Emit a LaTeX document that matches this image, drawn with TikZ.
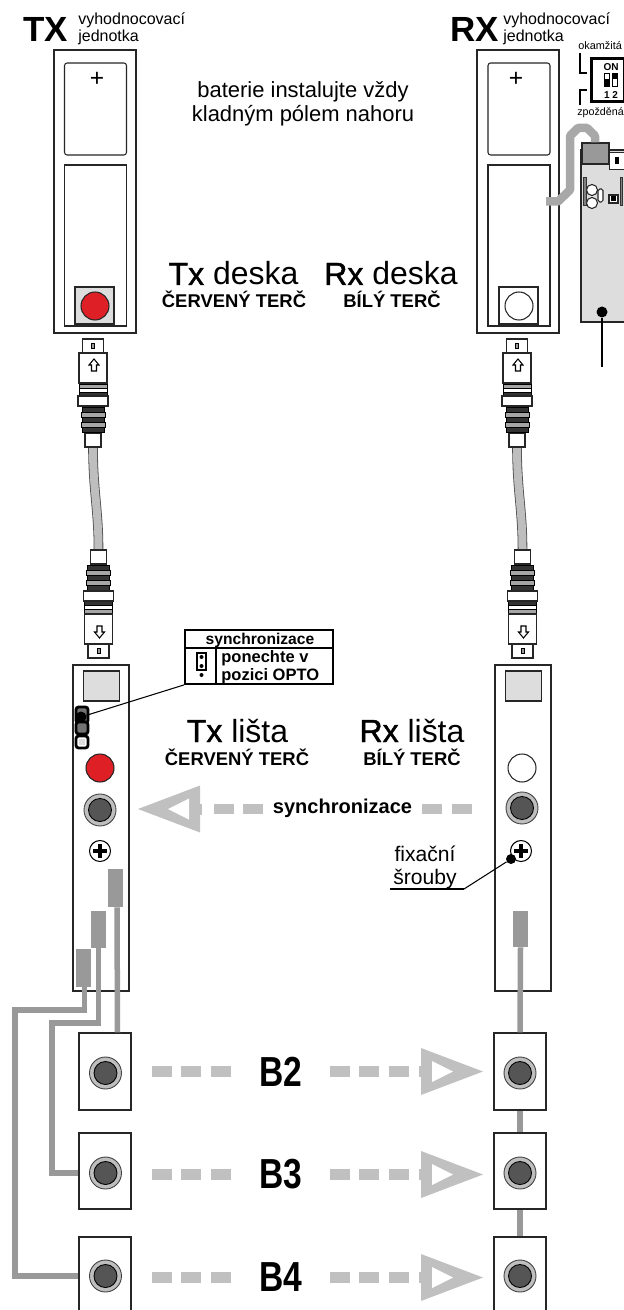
\documentclass[tikz,border=0pt]{standalone}
\usepackage{fontspec}
\setmainfont{Liberation Sans}
\newfontfamily\strokefont[FakeBold=1.5]{Liberation Sans}
\newfontfamily\narrowfont[FakeStretch=0.8]{Liberation Sans}
\usepackage{tikz}
\usetikzlibrary{positioning, shapes.geometric, calc}
\def\px{0.02cm}
\definecolor{panelgray}{HTML}{DDDDDD}
\definecolor{targetred}{HTML}{DE1F26}
\definecolor{ringgray}{HTML}{BEBEBE}
\definecolor{coregray}{HTML}{555555}
\definecolor{wiregray}{HTML}{999999}
\definecolor{beamgray}{HTML}{C0C0C0}
\definecolor{tubegray}{HTML}{A8A8A8}
\tikzstyle{outline} = [rectangle, draw=black!85, fill=white, inner sep=0pt, line width=0.6pt]
\tikzstyle{unitbox} = [outline, minimum width=82*\px, minimum height=283*\px]
\tikzstyle{cellup} = [outline, rounded corners=1.5pt, minimum width=62*\px, minimum height=92*\px]
\tikzstyle{celldown} = [outline, minimum width=62*\px, minimum height=161*\px]
\tikzstyle{targetbox} = [outline, minimum width=39*\px, minimum height=37*\px]
\tikzstyle{target} = [circle, draw=black!85, inner sep=0pt, minimum size=28*\px, line width=0.6pt]
\tikzstyle{stripbox} = [outline, minimum width=56*\px, minimum height=326*\px]
\tikzstyle{stripsquare} = [outline, fill=panelgray, minimum width=36*\px, minimum height=30*\px]
\tikzstyle{jackbox} = [outline, minimum width=52*\px]
\tikzstyle{plugblock} = [rectangle, fill=wiregray, inner sep=0pt, minimum width=15*\px, minimum height=38*\px]
\tikzstyle{wire} = [wiregray, line width=5.5*\px]
\tikzstyle{beambar} = [fill=beamgray]
\tikzstyle{leader} = [black, line width=0.6pt]
\tikzstyle{dotmark} = [circle, fill=black, inner sep=0pt, minimum size=10*\px]
\tikzset{
  jack/.pic={
    \coordinate (-c) at (0,0);
    \draw [fill=ringgray, draw=black!75, line width=0.5pt] (0,0) circle (16);
    \draw [fill=coregray, draw=black, line width=0.5pt] (0,0) circle (11.5);
  },
  screw/.pic={
    \coordinate (-c) at (0,0);
    \draw [fill=white, draw=black, line width=0.6pt] (0,0) circle (10.5);
    \draw [black, line width=3.2*\px] (-7,0) -- (7,0) (0,-7) -- (0,7);
  },
  beamhead/.pic={
    \fill [beamgray] (-64,-5.5) rectangle (-60,5.5);
    \fill [beamgray] (0,0) -- (-62,-23.5) -- (-62,23.5) -- cycle;
    \fill [white] (-30,0) -- (-51,-10.5) -- (-51,10.5) -- cycle;
  },
  plug/.pic={
    \coordinate (-neck) at (0,108);
    \draw [outline] (-8,94) rectangle (8,108);
    % fins next to the cable
    \foreach \fy/\fw/\fc in {68/11/black!80, 73/12/black!35, 78/11/black!80, 83/12/black!35, 88/11/black!80}
      \draw [fill=\fc, draw=black, line width=0.4pt] (-\fw,\fy) rectangle (\fw,\fy+5);
    % fins next to the body
    \foreach \fy/\fc in {45/black!35, 49/white, 53/black!80}
      \draw [fill=\fc, draw=black, line width=0.4pt] (-14,\fy) rectangle (14,\fy+4.5);
    \draw [outline] (-15,57) rectangle (15,67);
    \draw [outline] (-14,14) rectangle (14,44);
    \draw [outline] (-10.5,0) rectangle (10.5,14);
    \draw [fill=black!40, draw=black, line width=0.5pt] (-1.5,4.5) rectangle (1.5,9.5);
    \draw [fill=white, draw=black, line width=0.6pt] (1,20) -- (6,26) -- (3.5,26) -- (3.5,32) -- (-1.5,32) -- (-1.5,26) -- (-4,26) -- cycle;
  }
}
\begin{document}
\begin{tikzpicture}[x=\px, y=-\px]
    \path [use as bounding box, clip] (0,0) rectangle (624,1310);

    % titles
    \node (TxTitle) [anchor=base west, inner sep=0pt, font=\fontsize{19.9}{20}\selectfont\bfseries] at (23,42) {TX};
    \node (TxName) [anchor=north west, align=left, inner sep=0pt, font=\fontsize{9.1}{9.7}\selectfont] at (78,12) {vyhodnocovací\\jednotka};
    \node (RxTitle) [anchor=base west, inner sep=0pt, font=\fontsize{19.9}{20}\selectfont\bfseries] at (450,42) {RX};
    \node (RxName) [anchor=north west, align=left, inner sep=0pt, font=\fontsize{9.1}{9.7}\selectfont] at (503,12) {vyhodnocovací\\jednotka};
    \node (Battery) [align=center, inner sep=0pt, font=\fontsize{12.5}{13.7}\selectfont] at (303,104) {baterie instalujte vždy\\kladným pólem nahoru};

    % evaluation units
    \node (TxUnit) [unitbox] at (95,191.5) {};
    \node (TxUp) [cellup] at (95.5,109) {};
    \node (TxDown) [celldown] at (95.5,245.5) {};
    \node (TxPlus) [inner sep=0pt, font=\fontsize{14}{14}\selectfont] at (97,79) {+};
    \node (TxSquare) [targetbox, fill=panelgray] at (94.5,305.5) {};
    \node (TxTarget) [target, fill=targetred] at (95,306) {};
    \node (RxUnit) [unitbox] at (518,191.5) {};
    \node (RxUp) [cellup] at (519,109) {};
    \node (RxDown) [celldown] at (519,245.5) {};
    \node (RxPlus) [inner sep=0pt, font=\fontsize{14}{14}\selectfont] at (516,79) {+};
    \node (RxSquare) [targetbox] at (518.5,305.5) {};
    \node (RxTarget) [target, fill=white] at (519,306) {};

    % plugs and cables
    \draw [black!70, line width=9.6*\px] (517,447) .. controls (517,490) and (522.5,510) .. (522.5,549);
    \draw [black!70, line width=9.6*\px] (93,447) .. controls (93,490) and (98.5,510) .. (98.5,549);
    \draw [ringgray, line width=8*\px] (517,447) .. controls (517,490) and (522.5,510) .. (522.5,549);
    \draw [ringgray, line width=8*\px] (93,447) .. controls (93,490) and (98.5,510) .. (98.5,549);
    \pic (TxTop) at (93,339) {plug};
    \pic [yscale=-1] (TxBottom) at (98.5,658) {plug};
    \pic (RxTop) at (517,339) {plug};
    \pic [yscale=-1] (RxBottom) at (522.5,658) {plug};

    % board labels
    \node (TxBoard) [anchor=base, inner sep=0pt, font=\fontsize{18.2}{18.2}\selectfont] at (233.5,285) {{\strokefont Tx} deska};
    \node (TxBoardSub) [anchor=base, inner sep=0pt, font=\fontsize{10.5}{10.5}\selectfont\bfseries] at (234,308) {ČERVENÝ TERČ};
    \node (RxBoard) [anchor=base, inner sep=0pt, font=\fontsize{18.2}{18.2}\selectfont] at (391,285) {{\strokefont Rx} deska};
    \node (RxBoardSub) [anchor=base, inner sep=0pt, font=\fontsize{10.5}{10.5}\selectfont\bfseries] at (392,308) {BÍLÝ TERČ};

    % switch and side board
    \node (Okamzita) [anchor=base west, inner sep=0pt, font=\fontsize{6.2}{6.2}\selectfont] at (578,50) {okamžitá};
    \node (Zpozdena) [anchor=base west, inner sep=0pt, font=\fontsize{6.1}{6.1}\selectfont] at (577,116) {zpožděná};
    \node (Switch) [rectangle, draw=black, fill=white, line width=1.5pt, inner sep=0pt, minimum width=33*\px, minimum height=43*\px] at (608,80) {};
    \node (SwitchOn) [inner sep=0pt, font=\fontsize{5.7}{5.7}\selectfont\bfseries] at (611,67) {ON};
    \node (SwitchNum) [inner sep=0pt, font=\fontsize{5.7}{5.7}\selectfont\bfseries] at (611,95) {1 2};
    \draw [fill=white, draw=black, line width=0.4pt] (604,73) rectangle (609,86);
    \fill [black] (604,79.5) rectangle (609,86);
    \draw [fill=white, draw=black, line width=0.4pt] (612,73) rectangle (617,86);
    \fill [black] (612,73) rectangle (617,79.5);
    \coordinate (OkEnd) at (587,73);
    \coordinate (ZpEnd) at (587,90);
    \draw [black, line width=0.6pt] (580,53) |- (OkEnd);
    \draw [black, line width=0.6pt] (580,105) |- (ZpEnd);

    \node (Board) [outline, fill=panelgray, minimum width=50*\px, minimum height=172*\px] at (606,236) {};
    \node (BoardPlug) [outline, fill=wiregray, minimum width=27*\px, minimum height=21*\px] at (595.5,153.5) {};
    \coordinate (TubeStart) at (546,201.5);
    \draw [tubegray, line width=8.5*\px, line join=round] (TubeStart) -- (558,201.5) -- (570,190) -- (570,136) -- (578,128) -- (587,128) -- (595,136) -- (BoardPlug.north -| 595,0);
    \node (BoardCut) [outline, line width=0.4pt, minimum width=16*\px, minimum height=17*\px] at (617,160.5) {};
    \fill [black] (615,157) rectangle (619,164);
    \draw [outline] (592,190) circle (5.5);
    \draw [outline] (592,203) circle (5.5);
    \draw [outline, rounded corners=1pt] (598,189) rectangle (603,202);
    \draw [outline, line width=0.7pt] (609,195) rectangle (618,203);
    \fill [black] (611,196.5) rectangle (616,201.5);
    \draw [black!80, fill=black!50, line width=0.4pt] (583,177) rectangle (586,205);
    \draw [black!80, fill=black!50, line width=0.4pt] (620,177) rectangle (622,205);
    \node (BoardDot) [dotmark, minimum size=11*\px] at (602,312) {};
    \coordinate (BoardLead) at (602,367);
    \draw [black, line width=0.9pt] (BoardDot) -- (BoardLead);

    % strips
    \node (TxStrip) [stripbox] at (101,828) {};
    \node (RxStrip) [stripbox] at (523,828) {};
    \node (TxStripSquare) [stripsquare] at (101.5,686) {};
    \node (RxStripSquare) [stripsquare] at (523.5,686) {};
    \draw [fill=black!55, draw=black, line width=1.6pt, rounded corners=1.5pt] (76,707) rectangle (88,723);
    \draw [fill=black!55, draw=black, line width=1.6pt, rounded corners=1.5pt] (76,722) rectangle (88,734);
    \draw [fill=white, draw=black, line width=1.6pt, rounded corners=1.5pt] (76,736) rectangle (88,748);
    \fill [panelgray] (79,739) rectangle (85,745);
    \node (TxLamp) [target, fill=targetred] at (100,768) {};
    \node (RxLamp) [target, fill=white] at (522,768) {};
    \pic (TxSyncJack) at (100,810) {jack};
    \pic (RxSyncJack) at (522,808) {jack};
    \pic (TxScrew) at (100,851) {screw};
    \pic (RxScrew) at (521,851) {screw};

    % note about the jumper
    \node (SyncNote) [rectangle, draw=black, fill=white, line width=1pt, inner sep=0pt, minimum width=148*\px, minimum height=54*\px] at (259,657) {};
    \draw [black, line width=1pt] (185,648) -- (333,648) (216,648) -- (216,684);
    \node (SyncNoteHead) [inner sep=0pt, font=\fontsize{8.9}{8.9}\selectfont\bfseries] at (260,640) {synchronizace};
    \node (SyncNoteText) [anchor=north west, align=left, inner sep=0pt, font=\fontsize{9.4}{10.2}\selectfont\bfseries] at (221,650) {ponechte v\\pozici OPTO};
    \draw [fill=white, draw=black, line width=0.6pt] (197,653) rectangle (206,670);
    \node (PinA) [dotmark, minimum size=4*\px] at (201.5,657) {};
    \node (PinB) [dotmark, minimum size=4*\px] at (201.5,666) {};
    \node (PinC) [dotmark, minimum size=4*\px] at (201.5,675) {};
    \node (JumperDot) [dotmark, minimum size=11*\px] at (81,717) {};
    \draw [leader] (SyncNote.south west) -- (JumperDot);

    % strip labels
    \node (TxStripLabel) [anchor=base, inner sep=0pt, font=\fontsize{18.2}{18.2}\selectfont] at (237.5,742) {{\strokefont Tx} lišta};
    \node (TxStripSub) [anchor=base, inner sep=0pt, font=\fontsize{10.5}{10.5}\selectfont\bfseries] at (237,765) {ČERVENÝ TERČ};
    \node (RxStripLabel) [anchor=base, inner sep=0pt, font=\fontsize{18.2}{18.2}\selectfont] at (412,742) {{\strokefont Rx} lišta};
    \node (RxStripSub) [anchor=base, inner sep=0pt, font=\fontsize{10.5}{10.5}\selectfont\bfseries] at (412,765) {BÍLÝ TERČ};

    % synchronisation beam
    \pic [xscale=-1] at (138,809) {beamhead};
    \foreach \bx in {214,243,422,452}
      \fill [beambar] (\bx,804) rectangle +(20,10);
    \node (SyncLabel) [inner sep=0pt, font=\fontsize{11.4}{11.4}\selectfont\bfseries] at (342.5,808) {synchronizace};

    % fixing screws
    \node (ScrewNote) [align=center, inner sep=0pt, font=\fontsize{12}{13.1}\selectfont] at (425,867) {fixační\\šrouby};
    \node (ScrewDot) [dotmark] at (511,859) {};
    \coordinate (ScrewKnee) at (464,889);
    \coordinate (ScrewEnd) at (390,889);
    \draw [leader] (ScrewDot) -- (ScrewKnee);
    \draw [black, line width=1.1pt] (ScrewKnee) -- (ScrewEnd);

    % receiver boxes
    \node (TxB2) [jackbox, minimum height=77*\px] at (105,1071.5) {};
    \node (TxB3) [jackbox, minimum height=76*\px] at (105,1171) {};
    \node (TxB4) [jackbox, minimum height=90*\px] at (105,1282) {};
    \node (RxB2) [jackbox, minimum height=77*\px] at (520,1071.5) {};
    \node (RxB3) [jackbox, minimum height=76*\px] at (520,1171) {};
    \node (RxB4) [jackbox, minimum height=90*\px] at (520,1282) {};
    \foreach \bname/\by in {B2/1073, B3/1173, B4/1276} {
      \pic (Tx\bname Jack) at (105.5,\by) {jack};
      \pic (Rx\bname Jack) at (520,\by) {jack};
    }

    % connector blocks and wires
    \node (PlugB2) [plugblock] at (115.5,888) {};
    \node (PlugB3) [plugblock, minimum height=37*\px] at (98.5,929.5) {};
    \node (PlugB4) [plugblock] at (83.5,968) {};
    \node (PlugRx) [plugblock, minimum height=36*\px] at (520.5,929) {};
    \coordinate (BendB3) at (52,1023);
    \coordinate (BendB4) at (15,1010);
    \draw [wire] ([xshift=1.5*\px]PlugB2.south) -- ([xshift=12.5*\px]TxB2.north);
    \draw [wire] (PlugB3.south) |- (BendB3) |- (TxB3.west |- TxB3Jack-c);
    \draw [wire] ([xshift=1*\px]PlugB4.south) |- (BendB4) |- (TxB4.west |- TxB4Jack-c);
    \draw [wire] (PlugRx.south) -- (RxB2.north);
    \draw [wire] (RxB2.south) -- (RxB3.north);
    \draw [wire] (RxB3.south) -- (RxB4.north);

    % beams
    \foreach \bname/\by in {B2/1071.5, B3/1174.5, B4/1277.5} {
      \foreach \bx in {152,181,211,330,359,389}
        \fill [beambar] (\bx,\by-5.5) rectangle +(20,11);
      \pic at (483,\by) {beamhead};
      \node (Label\bname) [inner sep=0pt, font=\fontsize{23.9}{23.9}\selectfont\narrowfont\bfseries] at (281,\by) {\bname};
    }
\end{tikzpicture}
\end{document}
